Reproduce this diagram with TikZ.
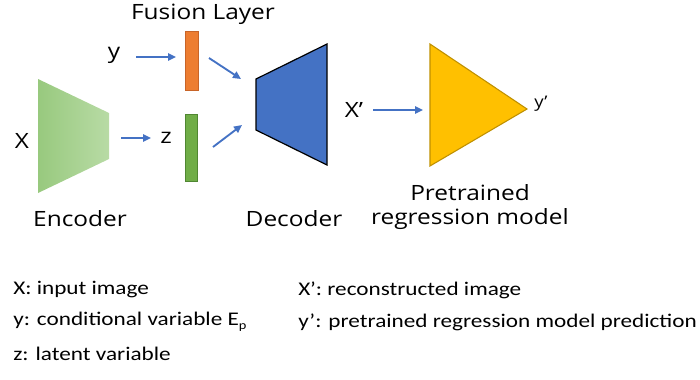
\documentclass[tikz,border=0pt]{standalone}
\usepackage{fontspec}
\setmainfont{Open Sans}
\newfontfamily\lblfont[FakeStretch=1.16]{Open Sans}
\newfontfamily\legendfont[FakeStretch=1.2]{Carlito}
\usetikzlibrary{arrows.meta}
\definecolor{arrowblue}{RGB}{68,114,196}
\definecolor{decblue}{RGB}{68,114,196}
\definecolor{fuseorange}{RGB}{237,125,49}
\definecolor{fuseorangeb}{RGB}{200,100,40}
\definecolor{fusegreen}{RGB}{112,173,71}
\definecolor{fusegreenb}{RGB}{80,135,50}
\definecolor{encL}{RGB}{152,201,126}
\definecolor{encR}{RGB}{184,219,165}
\definecolor{predyellow}{RGB}{255,192,0}
\definecolor{predyellowb}{RGB}{191,144,0}
\tikzset{
  lbl/.style={font=\lblfont\fontsize{15.8}{19}\selectfont, inner sep=0pt},
  leg/.style={font=\legendfont\fontsize{14.5}{17}\selectfont, inner sep=0pt, anchor=west},
  flow/.style={draw=arrowblue, line width=1.4pt, -{Triangle[length=6pt,width=5.5pt]}},
}
\begin{document}
\begin{tikzpicture}[x=0.75pt,y=-0.75pt]
\useasboundingbox (0,0) rectangle (700,379);
% encoder
\path[left color=encL, right color=encR] (38,79) -- (109,113) -- (109,159) -- (38,193) -- cycle;
% decoder
\draw[fill=decblue, line width=0.9pt] (256,79) -- (327,44) -- (327,165) -- (256,130) -- cycle;
% fusion bars
\draw[fill=fuseorange, draw=fuseorangeb, line width=0.6pt] (185,31) rectangle (198,90);
\draw[fill=fusegreen, draw=fusegreenb, line width=0.6pt] (185,114) rectangle (197,181);
% predictor triangle
\draw[fill=predyellow, draw=predyellowb, line width=0.8pt] (430,44) -- (527,109) -- (430,166) -- cycle;
% labels
\node[lbl] (fusion) at (203,14) {Fusion Layer};
\node[lbl] (y) at (114,55) {y};
\node[lbl] (X) at (22,141) {X};
\node[lbl] (z) at (166,138) {z};
\node[lbl] (enc) at (80,219) {Encoder};
\node[lbl] (dec) at (294,219) {Decoder};
\node[lbl] (Xp) at (354,110) {X’};
\node[lbl, font=\lblfont\fontsize{12}{14}\selectfont] (yp) at (541,104) {y’};
\node[lbl] (pre1) at (470,193) {Pretrained};
\node[lbl] (pre2) at (470,219) {regression model};
% arrow coordinates
\coordinate (a1s) at (136,57); \coordinate (a1e) at (176,57);
\coordinate (a2s) at (121,138); \coordinate (a2e) at (151,138);
\coordinate (a3s) at (209,58); \coordinate (a3e) at (241,79);
\coordinate (a4s) at (213,147); \coordinate (a4e) at (242,125);
\coordinate (a5s) at (373,110); \coordinate (a5e) at (423,110);
\draw[flow] (a1s) -- (a1e);
\draw[flow] (a2s) -- (a2e);
\draw[flow] (a3s) -- (a3e);
\draw[flow] (a4s) -- (a4e);
\draw[flow] (a5s) -- (a5e);
% legend
\node[leg] (l1) at (13,290) {X: input image};
\node[leg] (l2) at (13,322) {y: conditional variable E\raisebox{-0.45ex}{\fontsize{9}{9}\selectfont p}};
\node[leg] (l3) at (13,354) {z: latent variable};
\node[leg] (l4) at (298,290) {X’: reconstructed image};
\node[leg] (l5) at (298,322) {y’: pretrained regression model prediction};
\end{tikzpicture}
\end{document}
